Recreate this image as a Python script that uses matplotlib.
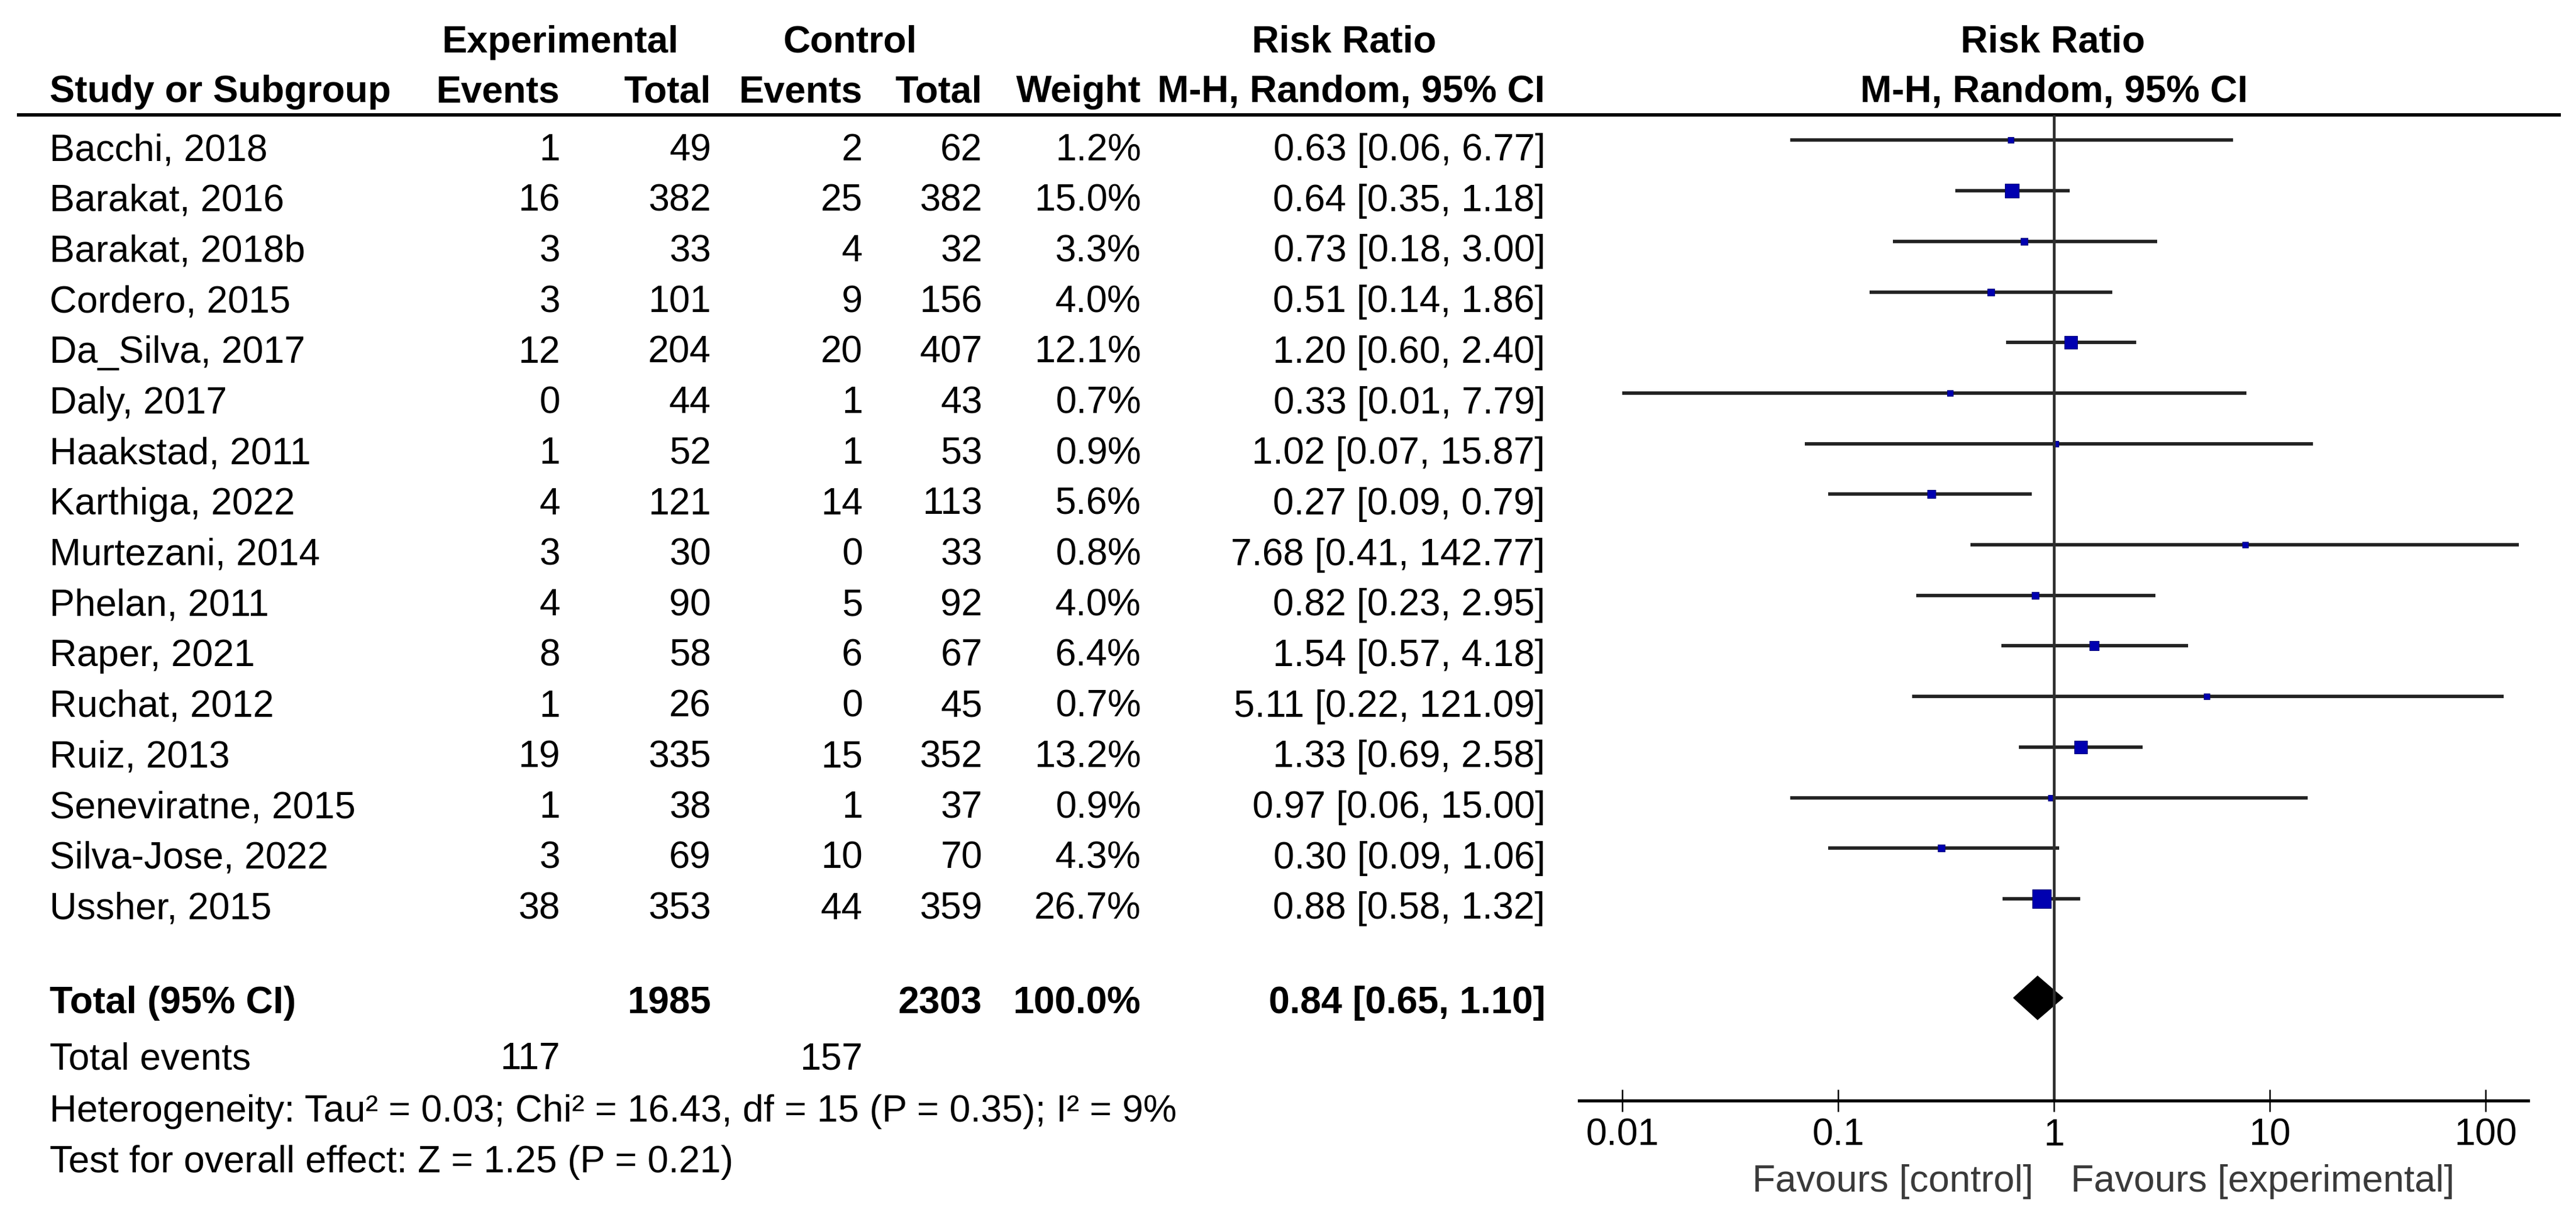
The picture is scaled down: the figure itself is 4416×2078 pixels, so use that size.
import numpy as np
import matplotlib
matplotlib.use("Agg")
from matplotlib import pyplot as plt

plt.rcParams['font.family'] = ['Liberation Sans', 'DejaVu Sans']

studies = ["Bacchi, 2018", "Barakat, 2016", "Barakat, 2018b", "Cordero, 2015",
           "Da_Silva, 2017", "Daly, 2017", "Haakstad, 2011", "Karthiga, 2022",
           "Murtezani, 2014", "Phelan, 2011", "Raper, 2021", "Ruchat, 2012",
           "Ruiz, 2013", "Seneviratne, 2015", "Silva-Jose, 2022", "Ussher, 2015"]
exp_events = [1, 16, 3, 3, 12, 0, 1, 4, 3, 4, 8, 1, 19, 1, 3, 38]
exp_total = [49, 382, 33, 101, 204, 44, 52, 121, 30, 90, 58, 26, 335, 38, 69, 353]
ctl_events = [2, 25, 4, 9, 20, 1, 1, 14, 0, 5, 6, 0, 15, 1, 10, 44]
ctl_total = [62, 382, 32, 156, 407, 43, 53, 113, 33, 92, 67, 45, 352, 37, 70, 359]
weight = [1.2, 15.0, 3.3, 4.0, 12.1, 0.7, 0.9, 5.6, 0.8, 4.0, 6.4, 0.7, 13.2, 0.9, 4.3, 26.7]
rr = [0.63, 0.64, 0.73, 0.51, 1.20, 0.33, 1.02, 0.27, 7.68, 0.82, 1.54, 5.11, 1.33, 0.97, 0.30, 0.88]
rr_lo = [0.06, 0.35, 0.18, 0.14, 0.60, 0.01, 0.07, 0.09, 0.41, 0.23, 0.57, 0.22, 0.69, 0.06, 0.09, 0.58]
rr_hi = [6.77, 1.18, 3.00, 1.86, 2.40, 7.79, 15.87, 0.79, 142.77, 2.95, 4.18, 121.09, 2.58, 15.00, 1.06, 1.32]

total_exp, total_ctl = 1985, 2303
total_weight = 100.0
total_ev_exp, total_ev_ctl = 117, 157
pooled = (0.84, 0.65, 1.10)
heterogeneity = "Heterogeneity: Tau\u00b2 = 0.03; Chi\u00b2 = 16.43, df = 15 (P = 0.35); I\u00b2 = 9%"
overall = "Test for overall effect: Z = 1.25 (P = 0.21)"
ticks = [0.01, 0.1, 1, 10, 100]
tick_labels = ["0.01", "0.1", "1", "10", "100"]

W, H = 4416, 2078
FS = 46.5
fig = plt.figure(figsize=(W / 100, H / 100), dpi=100)

# table layer in pixel units
tab = fig.add_axes([0, 0, 1, 1])
tab.set_xlim(0, W)
tab.set_ylim(H, 0)
tab.axis('off')

x_name = 85
x_ee, x_et, x_ce, x_ct, x_w, x_rr = 960, 1219, 1479, 1684, 1956, 2649
row0, step = 275, 86.7

def t(x, y, s, ha='right', bold=False, color='black'):
    tab.text(x, y, s, ha=ha, va='baseline', fontsize=FS,
             fontweight='bold' if bold else 'normal', color=color)

# headers
t(961, 90, "Experimental", ha='center', bold=True)
t(1457, 90, "Control", ha='center', bold=True)
t(2304, 90, "Risk Ratio", ha='center', bold=True)
t(3519, 90, "Risk Ratio", ha='center', bold=True)
t(x_name, 175, "Study or Subgroup", ha='left', bold=True)
t(x_ee, 175, "Events", bold=True)
t(x_et, 175, "Total", bold=True)
t(x_ce, 175, "Events", bold=True)
t(x_ct, 175, "Total", bold=True)
t(x_w, 175, "Weight", bold=True)
t(x_rr, 175, "M-H, Random, 95% CI", bold=True)
t(3521, 175, "M-H, Random, 95% CI", ha='center', bold=True)
tab.plot([29, 4390], [197, 197], color='black', lw=4.2, solid_capstyle='butt')

for i, name in enumerate(studies):
    y = row0 + step * i
    t(x_name, y, name, ha='left')
    t(x_ee, y, str(exp_events[i]))
    t(x_et, y, str(exp_total[i]))
    t(x_ce, y, str(ctl_events[i]))
    t(x_ct, y, str(ctl_total[i]))
    t(x_w, y, f"{weight[i]:.1f}%")
    t(x_rr, y, f"{rr[i]:.2f} [{rr_lo[i]:.2f}, {rr_hi[i]:.2f}]")

t(x_name, 1737, "Total (95% CI)", ha='left', bold=True)
t(x_et, 1737, str(total_exp), bold=True)
t(x_ct, 1737, str(total_ctl), bold=True)
t(x_w, 1737, f"{total_weight:.1f}%", bold=True)
t(x_rr, 1737, f"{pooled[0]:.2f} [{pooled[1]:.2f}, {pooled[2]:.2f}]", bold=True)
t(x_name, 1833, "Total events", ha='left')
t(x_ee, 1833, str(total_ev_exp))
t(x_ce, 1833, str(total_ev_ctl))
t(x_name, 1923, heterogeneity, ha='left')
t(x_name, 2010, overall, ha='left')
t(3486, 2043, "Favours [control]", color='#3a3a3a')
t(3550, 2043, "Favours [experimental]", ha='left', color='#3a3a3a')

# forest plot, rows map to pixels: y_px = 240.4 + 86.7 * row
px_one, decade = 3521, 370
left_px, right_px = 2707, 4334
ax = fig.add_axes([left_px / W, 0, (right_px - left_px) / W, 1])
ax.set_xscale('log')
ax.set_xlim(10 ** ((left_px - px_one) / decade), 10 ** ((right_px - px_one) / decade))
ax.set_ylim((H - 240.4) / step, -240.4 / step)
ax.patch.set_alpha(0)

rows = np.arange(len(studies))
ax.hlines(rows, rr_lo, rr_hi, color='#222222', lw=4.2)
sides = np.maximum(32 * np.sqrt(np.array(weight) / 26.7), 10)
for r, v, s in zip(rows, rr, sides):
    ax.plot(v, r, marker='s', ms=s * 0.72, color='#0000b0', mec='#00007a', mew=0.8)

trow = 16.96
h = 0.43
ax.fill([pooled[1], pooled[0], pooled[2], pooled[0]],
        [trow, trow - h, trow, trow + h], color='black')

axis_row = (1887 - 240.4) / step
ax.vlines(1, -0.5, axis_row, color='#2e2e2e', lw=3.4)

for side in ['left', 'top', 'right']:
    ax.spines[side].set_visible(False)
ax.spines['bottom'].set_position(('data', axis_row))
ax.spines['bottom'].set_linewidth(3.8)
ax.set_yticks([])
ax.set_xticks(ticks)
ax.set_xticklabels(tick_labels)
ax.xaxis.set_minor_locator(matplotlib.ticker.NullLocator())
ax.tick_params(axis='x', direction='inout', length=27, width=1.8,
               labelsize=FS, pad=8)

fig.savefig("out.png", dpi=100)
